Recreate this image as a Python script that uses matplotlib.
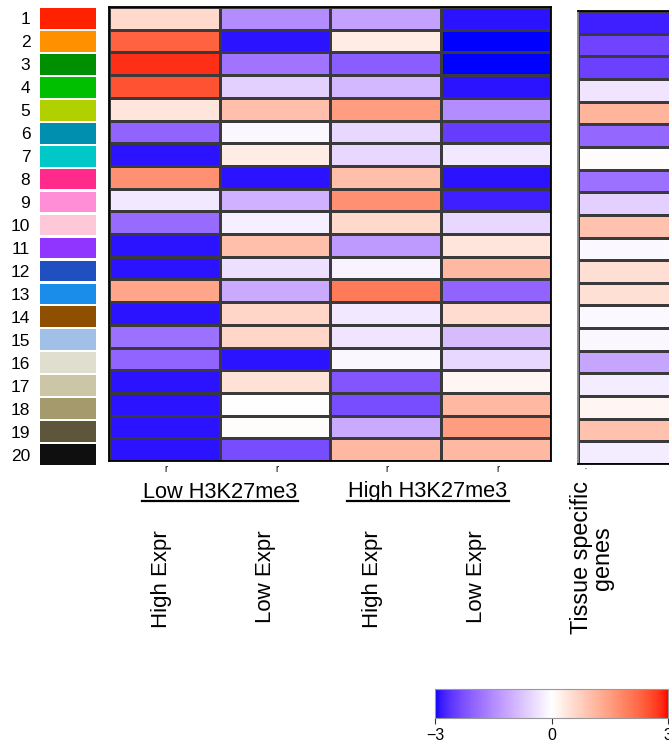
import numpy as np
import matplotlib
matplotlib.use("Agg")
import matplotlib.pyplot as plt
from matplotlib.colors import ListedColormap, Normalize
from matplotlib.lines import Line2D

plt.rcParams['font.family'] = ['Liberation Sans', 'DejaVu Sans']

#----------------------------------------------------
# Data
#----------------------------------------------------
state_ids = [str(i) for i in range(1, 21)]
state_colors = ["#FF2200", "#FF9100", "#008F00", "#00BF00", "#B0D000",
                "#008FAF", "#00C8C8", "#FF2A8A", "#FF8ED6", "#FFC8D8",
                "#9035FF", "#1F4FC0", "#1A8CEA", "#8F4F00", "#A0C0E8",
                "#E0DECE", "#CCC6A6", "#A59A6C", "#5E563A", "#0F0F0F"]

col_labels = ["High Expr", "Low Expr", "High Expr", "Low Expr"]
group_labels = ["Low H3K27me3", "High H3K27me3"]

low_k27_high = [0.6, 2.3, 2.8, 2.5, 0.4, -2.0, -2.9, 1.7, -0.3, -1.9,
                -2.9, -2.9, 1.4, -2.9, -1.85, -2.0, -2.9, -2.9, -2.9, -2.9]
low_k27_low = [-1.5, -2.9, -1.8, -0.6, 1.0, -0.1, 0.3, -2.9, -1.0, -0.2,
               1.0, -0.4, -1.1, 0.65, 0.65, -2.9, 0.45, -0.02, 0.03, -2.3]
high_k27_high = [-1.2, 0.3, -2.1, -0.9, 1.5, -0.5, -0.5, 1.0, 1.7, 0.6,
                 -1.3, -0.15, 2.0, -0.3, -0.35, -0.1, -2.2, -2.3, -1.1, 1.1]
high_k27_low = [-2.9, -3.0, -3.0, -2.9, -1.5, -2.5, -0.3, -2.9, -2.8, -0.5,
                0.4, 1.1, -2.0, 0.55, -0.85, -0.5, 0.15, 1.1, 1.5, 1.1]
tissue_specific = [-2.8, -2.4, -2.45, -0.35, 1.15, -1.95, 0.03, -1.85, -0.6, 0.95,
                   -0.08, 0.5, 0.48, -0.08, -0.1, -1.15, -0.25, 0.15, 0.95, -0.25]

#----------------------------------------------------
# Colour ramp, blue-white-red interpolated in LAB
#----------------------------------------------------
def to_lab(rgb):
    c = np.asarray(rgb, float)
    lin = np.where(c <= 0.04045, c / 12.92, ((c + 0.055) / 1.055) ** 2.4)
    m = np.array([[0.4124, 0.3576, 0.1805],
                  [0.2126, 0.7152, 0.0722],
                  [0.0193, 0.1192, 0.9505]])
    xyz = m @ lin / np.array([0.95047, 1.0, 1.08883])
    f = np.where(xyz > 0.008856, np.cbrt(xyz), 7.787 * xyz + 16 / 116)
    return np.array([116 * f[1] - 16, 500 * (f[0] - f[1]), 200 * (f[1] - f[2])])


def from_lab(lab):
    L, a, b = lab
    fy = (L + 16) / 116
    f = np.array([fy + a / 500, fy, fy - b / 200])
    xyz = np.where(f ** 3 > 0.008856, f ** 3, (f - 16 / 116) / 7.787)
    xyz = xyz * np.array([0.95047, 1.0, 1.08883])
    m = np.array([[3.2406, -1.5372, -0.4986],
                  [-0.9689, 1.8758, 0.0415],
                  [0.0557, -0.2040, 1.0570]])
    lin = np.clip(m @ xyz, 0, 1)
    c = np.where(lin <= 0.0031308, 12.92 * lin, 1.055 * lin ** (1 / 2.4) - 0.055)
    return np.clip(c, 0, 1)


blue, white, red = to_lab([0, 0, 1]), to_lab([1, 1, 1]), to_lab([1, 0, 0])
ramp = []
for t in np.linspace(0, 1, 256):
    if t < 0.5:
        s = t / 0.5
        ramp.append(from_lab(blue + (white - blue) * s))
    else:
        s = (t - 0.5) / 0.5
        ramp.append(from_lab(white + (red - white) * s))
cmap = ListedColormap(ramp)
norm = Normalize(vmin=-3, vmax=3)

#----------------------------------------------------
# Figure
#----------------------------------------------------
W, H = 669, 748
fig = plt.figure(figsize=(W / 100, H / 100), dpi=100)


def box(x0, y0, x1, y1):
    return [x0 / W, 1 - y1 / H, (x1 - x0) / W, (y1 - y0) / H]


# state colour key
ax_key = fig.add_axes(box(40, 7, 96, 466))
ypos = np.arange(len(state_ids))
ax_key.barh(ypos, 1, height=0.9, color=state_colors, left=0)
ax_key.set_xlim(0, 1)
ax_key.set_ylim(len(state_ids) - 0.5, -0.5)
ax_key.set_yticks(ypos)
ax_key.set_yticklabels(state_ids, fontsize=12.5)
ax_key.tick_params(axis='y', length=0, pad=7)
ax_key.set_xticks([])
for s in ax_key.spines.values():
    s.set_visible(False)

# main heatmap
mat = np.array([low_k27_high, low_k27_low, high_k27_high, high_k27_low]).T
ax = fig.add_axes(box(109, 7, 551, 461))
ax.pcolormesh(mat, cmap=cmap, norm=norm, edgecolors='#3a3a3a', linewidth=0.9)
ax.set_ylim(mat.shape[0], 0)
ax.set_xlim(0, mat.shape[1])
ax.set_xticks([])
ax.set_yticks([])
for s in ax.spines.values():
    s.set_linewidth(1.3)
    s.set_color('black')
# tiny marks left under each column
for j in range(mat.shape[1]):
    ax.text(j + 0.52, -0.006, "r", transform=ax.get_xaxis_transform(),
            fontsize=7, ha='center', va='top')

# tissue specific column
ts = np.array(tissue_specific).reshape(-1, 1)
ax_ts = fig.add_axes(box(578, 11, 688, 464))
ax_ts.pcolormesh(ts, cmap=cmap, norm=norm, edgecolors='#3a3a3a', linewidth=0.9)
ax_ts.set_ylim(ts.shape[0], 0)
ax_ts.set_xticks([])
ax_ts.set_yticks([])
for s in ax_ts.spines.values():
    s.set_linewidth(1.3)
    s.set_color('black')
ax_ts.spines['left'].set_color('#888888')
ax_ts.text(0.07, -0.008, "\"", transform=ax_ts.transAxes, fontsize=4,
           ha='center', va='top', color='#555555')

# group labels, underlined
for label, xc, x0, x1 in [(group_labels[0], 220, 142, 298),
                          (group_labels[1], 428, 347, 509)]:
    fig.text(xc / W, 1 - 492 / H, label, fontsize=15.7, ha='center', va='center')
    fig.add_artist(Line2D([x0 / W, x1 / W], [1 - 501 / H, 1 - 501 / H],
                          color='black', lw=1.6))

# column labels
for label, xc in zip(col_labels, [161, 266, 372, 477]):
    fig.text(xc / W, 1 - 530 / H, label, fontsize=16, rotation=90,
             ha='center', va='top')

fig.text(592 / W, 1 - 558 / H, "Tissue specific\ngenes", fontsize=16.8,
         rotation=90, ha='center', va='center', multialignment='center',
         linespacing=0.92)

# colour bar
cax = fig.add_axes(box(435, 689, 668, 718))
sm = plt.cm.ScalarMappable(norm=norm, cmap=cmap)
cb = fig.colorbar(sm, cax=cax, orientation='horizontal', ticks=[-3, 0, 3])
cb.ax.set_xticklabels(["\u22123", "0", "3"], fontsize=11.5)
cb.ax.tick_params(length=4, width=0.8, color='#333333', pad=3)
cb.outline.set_edgecolor('#999999')
cb.outline.set_linewidth(0.8)

fig.savefig("out.png", dpi=100)
